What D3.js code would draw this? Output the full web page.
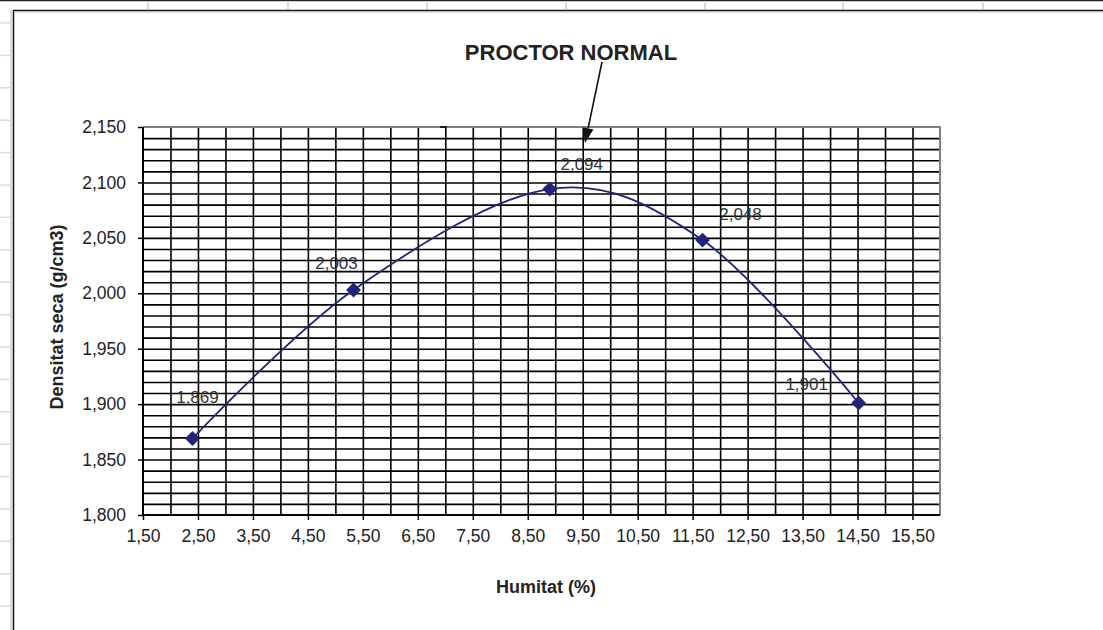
<!DOCTYPE html>
<html>
<head>
<meta charset="utf-8">
<script src="https://cdn.jsdelivr.net/npm/d3@7"></script>
<style>
  html, body { margin: 0; padding: 0; background: #fff; }
  svg { display: block; font-family: "Liberation Sans", Arial, sans-serif; }
</style>
</head>
<body>
<svg id="chart" width="1103" height="630"></svg>
<script>
// Compaction test results: moisture content (%) vs dry density (g/cm3)
const humitat  = [2.40, 5.33, 8.90, 11.68, 14.52];
const densitat = [1.869, 2.003, 2.094, 2.048, 1.901];

// Axis ticks
const xTicks = [1.5, 2.5, 3.5, 4.5, 5.5, 6.5, 7.5, 8.5, 9.5, 10.5, 11.5, 12.5, 13.5, 14.5, 15.5];
const yTicks = [1.80, 1.85, 1.90, 1.95, 2.00, 2.05, 2.10, 2.15];

// Label placement (pixel offsets from each marker)
const labelDx = [5, -17, 32, 38, -52];
const labelDy = [-41, -26, -25, -26, -19];

const W = 1103, H = 630;
const plot = { left: 143, right: 940, top: 127, bottom: 515 };

const svg = d3.select("#chart");
const loc = d3.formatLocale({ decimal: ",", thousands: ".", grouping: [3], currency: ["", "€"] });
const fmt2 = loc.format(".2f");
const fmt3 = loc.format(".3f");

const x = d3.scaleLinear().domain([1.5, 16.0]).range([plot.left, plot.right]);
const y = d3.scaleLinear().domain([1.80, 2.15]).range([plot.bottom, plot.top]);

// --- spreadsheet backdrop around the chart object ---
svg.append("rect").attr("width", W).attr("height", H).attr("fill", "#fff");
svg.append("line").attr("x1", 0).attr("x2", W).attr("y1", 0.5).attr("y2", 0.5)
  .attr("stroke", "#222").attr("stroke-width", 1.5);
[148, 288, 427, 566, 705, 843, 983].forEach(cx => {
  svg.append("line").attr("x1", cx).attr("x2", cx).attr("y1", 1).attr("y2", 9)
    .attr("stroke", "#d9d9d9").attr("stroke-width", 2);
});
for (let ry = 23; ry < H; ry += 32.4) {
  svg.append("line").attr("x1", 0).attr("x2", 10).attr("y1", ry).attr("y2", ry)
    .attr("stroke", "#dcdcdc").attr("stroke-width", 1.5);
}
svg.append("line").attr("x1", 11).attr("x2", 11).attr("y1", 9).attr("y2", H)
  .attr("stroke", "#cfcfcf").attr("stroke-width", 1.5);
// chart frame
svg.append("line").attr("x1", 13.5).attr("x2", 13.5).attr("y1", 10).attr("y2", H)
  .attr("stroke", "#111").attr("stroke-width", 1.5);
svg.append("line").attr("x1", 13).attr("x2", W).attr("y1", 10.5).attr("y2", 10.5)
  .attr("stroke", "#111").attr("stroke-width", 1.5);
svg.append("line").attr("x1", 14).attr("x2", W).attr("y1", 12).attr("y2", 12)
  .attr("stroke", "#bdbdbd").attr("stroke-width", 1);

// --- gridlines ---
const grid = svg.append("g");
grid.append("g")
  .attr("transform", `translate(0,${plot.bottom})`)
  .call(d3.axisBottom(x).tickValues(d3.range(2.0, 16.0, 0.5)).tickSize(-(plot.bottom - plot.top)).tickFormat(""))
  .call(g => g.select(".domain").remove())
  .call(g => g.selectAll("line").attr("stroke", "#000").attr("stroke-width", 1.6));
grid.append("g")
  .attr("transform", `translate(${plot.left},0)`)
  .call(d3.axisLeft(y).tickValues(d3.range(1.81, 2.145, 0.01)).tickSize(-(plot.right - plot.left)).tickFormat(""))
  .call(g => g.select(".domain").remove())
  .call(g => g.selectAll("line").attr("stroke", "#000").attr("stroke-width", 1.6));

// plot area border (top / right in grey)
svg.append("path")
  .attr("d", `M${plot.left},${plot.top}H${plot.right}V${plot.bottom}`)
  .attr("fill", "none").attr("stroke", "#808080").attr("stroke-width", 2);
svg.append("line").attr("x1", 440).attr("x2", 447).attr("y1", plot.top).attr("y2", plot.top)
  .attr("stroke", "#000").attr("stroke-width", 1.5);

// --- axes ---
const xAxis = svg.append("g")
  .attr("transform", `translate(0,${plot.bottom})`)
  .call(d3.axisBottom(x).tickValues(xTicks).tickSize(5).tickPadding(10).tickFormat(fmt2));
xAxis.select(".domain").attr("d", `M${plot.left},0H${plot.right}`).attr("stroke", "#000").attr("stroke-width", 2);
xAxis.selectAll("line").attr("stroke", "#000").attr("stroke-width", 1.5);
xAxis.selectAll("text").attr("font-size", 17.5).attr("fill", "#222")
  .attr("font-family", "'Liberation Sans', Arial, sans-serif");

const yAxis = svg.append("g")
  .attr("transform", `translate(${plot.left},0)`)
  .call(d3.axisLeft(y).tickValues(yTicks).tickSize(5).tickPadding(12).tickFormat(fmt3));
yAxis.select(".domain").attr("d", `M0,${plot.top}V${plot.bottom}`).attr("stroke", "#000").attr("stroke-width", 2);
yAxis.selectAll("line").attr("stroke", "#000").attr("stroke-width", 1.5);
yAxis.selectAll("text").attr("font-size", 17.5).attr("fill", "#222")
  .attr("font-family", "'Liberation Sans', Arial, sans-serif");

// --- series: smoothed line with diamond markers ---
const pts = humitat.map((h, i) => ({ h, d: densitat[i], i }));
const line = d3.line().x(p => x(p.h)).y(p => y(p.d)).curve(d3.curveCatmullRom.alpha(0));
svg.append("path").datum(pts).attr("d", line)
  .attr("fill", "none").attr("stroke", "#22237a").attr("stroke-width", 1.8);

const diamond = d3.symbol().type(d3.symbolSquare).size(110);
svg.selectAll(".mk").data(pts).join("path")
  .attr("class", "mk")
  .attr("d", diamond)
  .attr("transform", p => `translate(${x(p.h)},${y(p.d)}) rotate(45)`)
  .attr("fill", "#22237a");

svg.selectAll(".lbl").data(pts).join("text")
  .attr("class", "lbl")
  .attr("x", p => x(p.h) + labelDx[p.i])
  .attr("y", p => y(p.d) + labelDy[p.i])
  .attr("text-anchor", "middle").attr("dominant-baseline", "central")
  .attr("font-size", 17).attr("fill", "#333")
  .text(p => fmt3(p.d));

// --- titles ---
svg.append("text").attr("x", 571).attr("y", 60).attr("text-anchor", "middle")
  .attr("font-size", 22).attr("font-weight", "bold").attr("fill", "#222")
  .text("PROCTOR NORMAL");

// arrow pointing to the maximum
const tip = [585, 143], tail = [602, 62];
const ang = Math.atan2(tip[1] - tail[1], tip[0] - tail[0]);
const hl = 15, hw = 5.5;
const base = [tip[0] - hl * Math.cos(ang), tip[1] - hl * Math.sin(ang)];
svg.append("line").attr("x1", tail[0]).attr("y1", tail[1]).attr("x2", base[0]).attr("y2", base[1])
  .attr("stroke", "#111").attr("stroke-width", 1.6);
svg.append("path")
  .attr("d", `M${tip[0]},${tip[1]}L${base[0] + hw * Math.sin(ang)},${base[1] - hw * Math.cos(ang)}L${base[0] - hw * Math.sin(ang)},${base[1] + hw * Math.cos(ang)}Z`)
  .attr("fill", "#111");

svg.append("text").attr("transform", "translate(63,317) rotate(-90)")
  .attr("text-anchor", "middle")
  .attr("font-size", 18).attr("font-weight", "bold").attr("fill", "#222")
  .text("Densitat seca (g/cm3)");

svg.append("text").attr("x", 546).attr("y", 593).attr("text-anchor", "middle")
  .attr("font-size", 18).attr("font-weight", "bold").attr("fill", "#222")
  .text("Humitat (%)");
</script>
</body>
</html>
